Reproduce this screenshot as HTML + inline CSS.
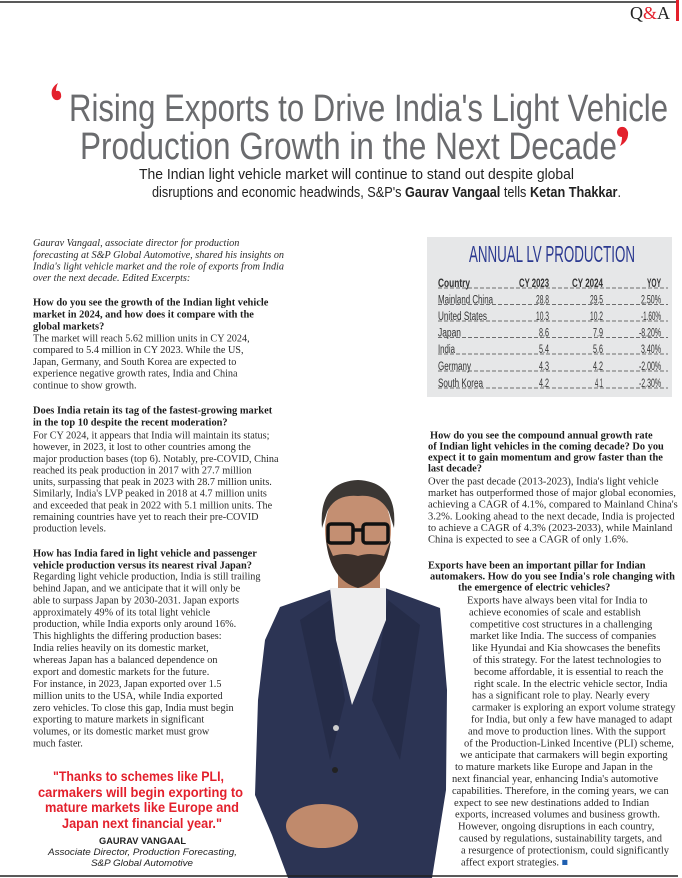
<!DOCTYPE html>
<html><head><meta charset="utf-8"><style>
html,body{margin:0;padding:0;background:#fff;}
svg{display:block;}
.b{font-family:"Liberation Serif",serif;font-size:10.2px;fill:#2a2a2a;letter-spacing:0px;}
.q{font-family:"Liberation Serif",serif;font-size:10.4px;font-weight:bold;fill:#1e1e1e;letter-spacing:0px;}
.i{font-family:"Liberation Serif",serif;font-size:10.2px;font-style:italic;fill:#2a2a2a;letter-spacing:0px;}
.rb{font-family:"Liberation Serif",serif;font-size:10.5px;fill:#2a2a2a;letter-spacing:0px;}
.rq{font-family:"Liberation Serif",serif;font-size:10.4px;font-weight:bold;fill:#1e1e1e;letter-spacing:0px;}
.t{font-family:"Liberation Sans",sans-serif;font-size:11.5px;fill:#333;}
</style></head><body>
<svg width="682" height="878" viewBox="0 0 682 878" xmlns="http://www.w3.org/2000/svg">
<line x1="0" y1="2" x2="678" y2="2" stroke="#222" stroke-width="1.5"/>
<rect x="676" y="0" width="3" height="21" fill="#e3202c"/>
<text x="630" y="19" font-family="Liberation Serif,serif" font-size="18" fill="#222">Q<tspan fill="#e3202c">&amp;</tspan>A</text>

<path d="M58 83 Q50 88 52 96 Q54 101 58 100 Q62 99 61 94 Q60 90 56 91 Q56 87 58 83 Z" fill="#e3202c"/>
<path d="M620 146 Q629 141 628 132 Q626 126 621 127 Q617 128 617 133 Q618 137 622 137 Q622 142 620 146 Z" fill="#e3202c"/>
<text x="69" y="121" font-family="Liberation Sans,sans-serif" font-size="38" fill="#6a6b6e" textLength="599" lengthAdjust="spacingAndGlyphs">Rising Exports to Drive India's Light Vehicle</text>
<text x="80" y="159" font-family="Liberation Sans,sans-serif" font-size="38" fill="#6a6b6e" textLength="537" lengthAdjust="spacingAndGlyphs">Production Growth in the Next Decade</text>
<text x="139" y="179" font-family="Liberation Sans,sans-serif" font-size="15" fill="#222" textLength="435" lengthAdjust="spacingAndGlyphs">The Indian light vehicle market will continue to stand out despite global</text>
<text x="152" y="197" font-family="Liberation Sans,sans-serif" font-size="15" fill="#222" textLength="469" lengthAdjust="spacingAndGlyphs">disruptions and economic headwinds, S&amp;P's <tspan font-weight="bold">Gaurav Vangaal</tspan> tells <tspan font-weight="bold">Ketan Thakkar</tspan>.</text>

<g class="i">
<text x="33" y="246">Gaurav Vangaal, associate director for production</text>
<text x="33" y="258">forecasting at S&amp;P Global Automotive, shared his insights on</text>
<text x="33" y="269.5">India's light vehicle market and the role of exports from India</text>
<text x="33" y="281">over the next decade. Edited Excerpts:</text>
</g>
<g class="q">
<text x="33" y="305.5">How do you see the growth of the Indian light vehicle</text>
<text x="33" y="317.5">market in 2024, and how does it compare with the</text>
<text x="33" y="329.5">global markets?</text>
<text x="33" y="413.5">Does India retain its tag of the fastest-growing market</text>
<text x="33" y="425.5">in the top 10 despite the recent moderation?</text>
<text x="33" y="556.5">How has India fared in light vehicle and passenger</text>
<text x="33" y="568.5">vehicle production versus its nearest rival Japan?</text>
</g>
<g class="b">
<text x="33" y="341.5">The market will reach 5.62 million units in CY 2024,</text>
<text x="33" y="353.2">compared to 5.4 million in CY 2023. While the US,</text>
<text x="33" y="364.9">Japan, Germany, and South Korea are expected to</text>
<text x="33" y="376.6">experience negative growth rates, India and China</text>
<text x="33" y="388.3">continue to show growth.</text>

<text x="33" y="438.5">For CY 2024, it appears that India will maintain its status;</text>
<text x="33" y="450.1">however, in 2023, it lost to other countries among the</text>
<text x="33" y="461.8">major production bases (top 6). Notably, pre-COVID, China</text>
<text x="33" y="473.4">reached its peak production in 2017 with 27.7 million</text>
<text x="33" y="485.1">units, surpassing that peak in 2023 with 28.7 million units.</text>
<text x="33" y="496.7">Similarly, India's LVP peaked in 2018 at 4.7 million units</text>
<text x="33" y="508.4">and exceeded that peak in 2022 with 5.1 million units. The</text>
<text x="33" y="520">remaining countries have yet to reach their pre-COVID</text>
<text x="33" y="531.7">production levels.</text>

<text x="33" y="579.5">Regarding light vehicle production, India is still trailing</text>
<text x="33" y="591.4">behind Japan, and we anticipate that it will only be</text>
<text x="33" y="603.4">able to surpass Japan by 2030-2031. Japan exports</text>
<text x="33" y="615.3">approximately 49% of its total light vehicle</text>
<text x="33" y="627.2">production, while India exports only around 16%.</text>
<text x="33" y="639.2">This highlights the differing production bases:</text>
<text x="33" y="651.1">India relies heavily on its domestic market,</text>
<text x="33" y="663">whereas Japan has a balanced dependence on</text>
<text x="33" y="675">export and domestic markets for the future.</text>
<text x="33" y="686.9">For instance, in 2023, Japan exported over 1.5</text>
<text x="33" y="698.8">million units to the USA, while India exported</text>
<text x="33" y="710.8">zero vehicles. To close this gap, India must begin</text>
<text x="33" y="722.7">exporting to mature markets in significant</text>
<text x="33" y="734.6">volumes, or its domestic market must grow</text>
<text x="33" y="746.6">much faster.</text>
</g>
<g font-family="Liberation Sans,sans-serif" font-size="14" font-weight="bold" fill="#e3202c">
<text x="53" y="781" textLength="171" lengthAdjust="spacingAndGlyphs">"Thanks to schemes like PLI,</text>
<text x="38" y="797" textLength="205" lengthAdjust="spacingAndGlyphs">carmakers will begin exporting to</text>
<text x="45" y="812" textLength="194" lengthAdjust="spacingAndGlyphs">mature markets like Europe and</text>
<text x="62" y="828" textLength="160" lengthAdjust="spacingAndGlyphs">Japan next financial year."</text>
</g>
<g font-family="Liberation Sans,sans-serif" font-size="9.5" fill="#222">
<text x="99" y="844" font-weight="bold" textLength="87" lengthAdjust="spacingAndGlyphs">GAURAV VANGAAL</text>
<text x="48" y="855" font-style="italic" textLength="189" lengthAdjust="spacingAndGlyphs">Associate Director, Production Forecasting,</text>
<text x="91" y="866" font-style="italic" textLength="102" lengthAdjust="spacingAndGlyphs">S&amp;P Global Automotive</text>
</g>

<rect x="427" y="237" width="245" height="160" fill="#e6e7e8"/>
<text x="469" y="262" font-family="Liberation Sans,sans-serif" font-size="23" fill="#2b3990" textLength="166" lengthAdjust="spacingAndGlyphs">ANNUAL LV PRODUCTION</text>
<g stroke="#444" stroke-width="0.8" stroke-dasharray="4 2">
<line x1="438" y1="288" x2="668" y2="288"/>
<line x1="438" y1="304.5" x2="668" y2="304.5"/>
<line x1="438" y1="321" x2="668" y2="321"/>
<line x1="438" y1="337.5" x2="668" y2="337.5"/>
<line x1="438" y1="354" x2="668" y2="354"/>
<line x1="438" y1="371" x2="668" y2="371"/>
<line x1="438" y1="388" x2="668" y2="388"/>
</g>
<g class="t" font-weight="bold">
<text x="438" y="287" textLength="32" lengthAdjust="spacingAndGlyphs">Country</text>
<text x="549" y="287" text-anchor="end" textLength="30" lengthAdjust="spacingAndGlyphs">CY 2023</text>
<text x="603" y="287" text-anchor="end" textLength="31" lengthAdjust="spacingAndGlyphs">CY 2024</text>
<text x="661" y="287" text-anchor="end" textLength="14" lengthAdjust="spacingAndGlyphs">YOY</text>
</g>
<g class="t">
<text x="438" y="303.5" textLength="55" lengthAdjust="spacingAndGlyphs">Mainland China</text>
<text x="438" y="320" textLength="49" lengthAdjust="spacingAndGlyphs">United States</text>
<text x="438" y="336.5" textLength="23" lengthAdjust="spacingAndGlyphs">Japan</text>
<text x="438" y="353" textLength="17" lengthAdjust="spacingAndGlyphs">India</text>
<text x="438" y="370" textLength="33" lengthAdjust="spacingAndGlyphs">Germany</text>
<text x="438" y="387" textLength="45" lengthAdjust="spacingAndGlyphs">South Korea</text>
<g text-anchor="end">
<text x="549" y="303.5" textLength="13" lengthAdjust="spacingAndGlyphs">28.8</text>
<text x="603" y="303.5" textLength="13" lengthAdjust="spacingAndGlyphs">29.5</text>
<text x="661" y="303.5" textLength="20" lengthAdjust="spacingAndGlyphs">2.50%</text>
<text x="549" y="320" textLength="13" lengthAdjust="spacingAndGlyphs">10.3</text>
<text x="603" y="320" textLength="13" lengthAdjust="spacingAndGlyphs">10.2</text>
<text x="661" y="320" textLength="20" lengthAdjust="spacingAndGlyphs">-1.60%</text>
<text x="549" y="336.5" textLength="10" lengthAdjust="spacingAndGlyphs">8.6</text>
<text x="603" y="336.5" textLength="10" lengthAdjust="spacingAndGlyphs">7.9</text>
<text x="661" y="336.5" textLength="22" lengthAdjust="spacingAndGlyphs">-8.20%</text>
<text x="549" y="353" textLength="10" lengthAdjust="spacingAndGlyphs">5.4</text>
<text x="603" y="353" textLength="10" lengthAdjust="spacingAndGlyphs">5.6</text>
<text x="661" y="353" textLength="20" lengthAdjust="spacingAndGlyphs">3.40%</text>
<text x="549" y="370" textLength="10" lengthAdjust="spacingAndGlyphs">4.3</text>
<text x="603" y="370" textLength="10" lengthAdjust="spacingAndGlyphs">4.2</text>
<text x="661" y="370" textLength="22" lengthAdjust="spacingAndGlyphs">-2.00%</text>
<text x="549" y="387" textLength="10" lengthAdjust="spacingAndGlyphs">4.2</text>
<text x="603" y="387" textLength="8" lengthAdjust="spacingAndGlyphs">4.1</text>
<text x="661" y="387" textLength="22" lengthAdjust="spacingAndGlyphs">-2.30%</text>
</g>
</g>

<g>
<path d="M280 607 L335 588 L385 588 L440 608 L447 690 L446 790 L432 878 L288 878 L272 835 L255 795 L258 700 L265 640 Z" fill="#2c3454"/>
<path d="M300 620 L330 600 L345 700 L330 760 Z" fill="#252c48"/>
<path d="M420 625 L388 600 L372 700 L400 760 Z" fill="#252c48"/>
<rect x="338" y="555" width="42" height="45" fill="#b98466"/>
<path d="M330 588 L386 588 L386 620 L352 705 L336 640 Z" fill="#eeeeef"/>
<ellipse cx="358" cy="530" rx="33" ry="46" fill="#c48f72"/>
<path d="M322 528 Q318 482 358 480 Q398 482 394 528 L389 512 Q380 494 358 496 Q335 494 327 512 Z" fill="#3b3734"/>
<path d="M326 540 Q330 580 358 588 Q386 580 391 540 L384 556 Q370 552 358 556 Q346 552 333 556 Z" fill="#3a2f2a"/>
<g fill="none" stroke="#111" stroke-width="3.5">
<rect x="328" y="524" width="25" height="19" rx="3"/>
<rect x="363" y="524" width="25" height="19" rx="3"/>
<line x1="353" y1="530" x2="363" y2="530"/>
</g>
<ellipse cx="322" cy="826" rx="36" ry="22" fill="#c08a6c"/>
<circle cx="336" cy="728" r="3" fill="#ccc"/>
<circle cx="335" cy="770" r="3" fill="#222"/>
</g>

<g class="rq">
<text x="430" y="438.5">How do you see the compound annual growth rate</text>
<text x="428" y="449.5">of Indian light vehicles in the coming decade? Do you</text>
<text x="428" y="460.5">expect it to gain momentum and grow faster than the</text>
<text x="428" y="471.5">last decade?</text>
<text x="428" y="568.5">Exports have been an important pillar for Indian</text>
<text x="430" y="579.5">automakers. How do you see India's role changing with</text>
<text x="458" y="590.5">the emergence of electric vehicles?</text>
</g>
<g class="rb">
<text x="428" y="484.5">Over the past decade (2013-2023), India's light vehicle</text>
<text x="428" y="496.1">market has outperformed those of major global economies,</text>
<text x="428" y="507.7">achieving a CAGR of 4.1%, compared to Mainland China's</text>
<text x="428" y="519.3">3.2%. Looking ahead to the next decade, India is projected</text>
<text x="428" y="530.9">to achieve a CAGR of 4.3% (2023-2033), while Mainland</text>
<text x="428" y="542.5">China is expected to see a CAGR of only 1.6%.</text>

<text x="467" y="603.5">Exports have always been vital for India to</text>
<text x="469" y="615.4">achieve economies of scale and establish</text>
<text x="470" y="627.3">competitive cost structures in a challenging</text>
<text x="470" y="639.2">market like India. The success of companies</text>
<text x="472" y="651.1">like Hyundai and Kia showcases the benefits</text>
<text x="473" y="663">of this strategy. For the latest technologies to</text>
<text x="474" y="674.9">become affordable, it is essential to reach the</text>
<text x="474" y="686.8">right scale. In the electric vehicle sector, India</text>
<text x="472" y="698.7">has a significant role to play. Nearly every</text>
<text x="472" y="710.6">carmaker is exploring an export volume strategy</text>
<text x="471" y="722.5">for India, but only a few have managed to adapt</text>
<text x="468" y="734.4">and move to production lines. With the support</text>
<text x="464" y="746.3">of the Production-Linked Incentive (PLI) scheme,</text>
<text x="460" y="758.2">we anticipate that carmakers will begin exporting</text>
<text x="455" y="770.1">to mature markets like Europe and Japan in the</text>
<text x="452" y="782">next financial year, enhancing India's automotive</text>
<text x="452" y="793.9">capabilities. Therefore, in the coming years, we can</text>
<text x="454" y="805.8">expect to see new destinations added to Indian</text>
<text x="455" y="817.7">exports, increased volumes and business growth.</text>
<text x="458" y="829.6">However, ongoing disruptions in each country,</text>
<text x="459" y="841.5">caused by regulations, sustainability targets, and</text>
<text x="461" y="853.4">a resurgence of protectionism, could significantly</text>
<text x="461" y="865.3">affect export strategies. <tspan fill="#1f5fb0">■</tspan></text>
</g>

<line x1="0" y1="876" x2="678" y2="876" stroke="#222" stroke-width="1.5"/>
</svg>
</body></html>
